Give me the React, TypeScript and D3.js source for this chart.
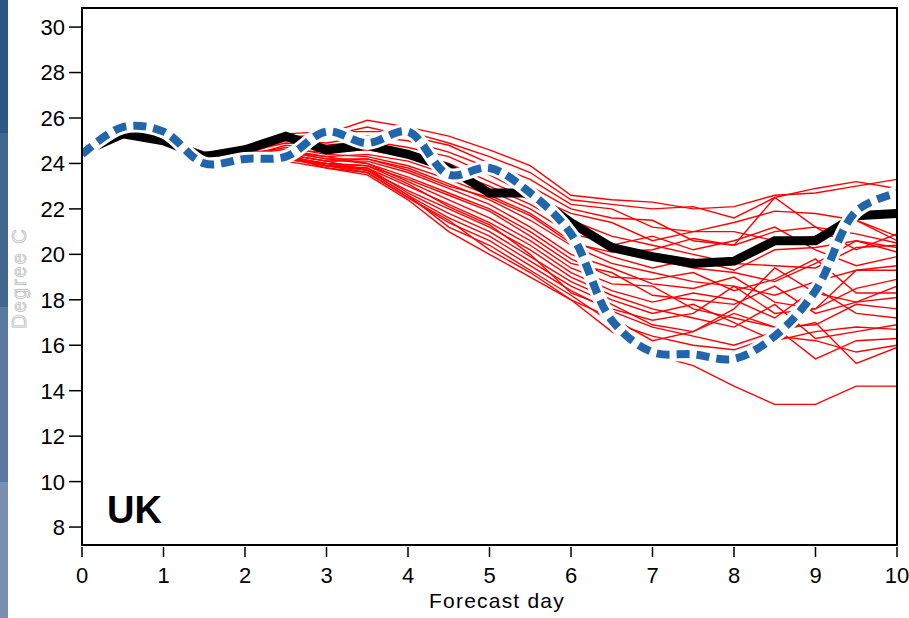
import React from 'react';
import * as d3 from 'd3';

// forecast days, half-day steps
const days = [0, 0.5, 1, 1.5, 2, 2.5, 3, 3.5, 4, 4.5, 5, 5.5, 6, 6.5, 7, 7.5, 8, 8.5, 9, 9.5, 10];
const xTicks = [0, 1, 2, 3, 4, 5, 6, 7, 8, 9, 10];
const yTicks = [8, 10, 12, 14, 16, 18, 20, 22, 24, 26, 28, 30];

// black thick line
const control = [24.5, 25.3, 25.0, 24.3, 24.6, 25.2, 24.6, 24.8, 24.4, 23.8, 22.7, 22.7, 21.4, 20.3, 19.9, 19.6, 19.7, 20.6, 20.6, 21.7, 21.8];
// blue dashed line
const analysis = [24.4, 25.6, 25.4, 24.0, 24.2, 24.3, 25.4, 24.9, 25.4, 23.5, 23.8, 22.7, 20.9, 17.1, 15.7, 15.6, 15.4, 16.4, 18.4, 21.9, 22.7];

// red ensemble members
const members = [
  [24.5, 25.3, 25.1, 24.5, 24.5, 25.1, 25.3, 25.9, 25.6, 25.2, 24.6, 23.9, 22.6, 22.4, 22.3, 22.0, 22.1, 22.6, 22.7, 23.0, 23.3],
  [24.5, 25.4, 25.0, 24.4, 24.6, 25.3, 25.4, 25.4, 25.4, 24.9, 24.3, 23.6, 22.4, 22.2, 22.0, 22.1, 21.6, 22.5, 22.9, 23.2, 22.9],
  [24.5, 25.3, 25.1, 24.3, 24.4, 25.2, 25.2, 25.6, 25.2, 24.8, 24.0, 23.3, 22.2, 22.0, 21.2, 21.0, 21.4, 21.9, 21.8, 21.5, 20.8],
  [24.5, 25.4, 25.0, 24.5, 24.4, 25.0, 24.9, 25.2, 25.0, 24.5, 23.8, 23.0, 22.0, 21.6, 21.5, 20.6, 20.4, 22.5, 21.2, 20.9, 20.5],
  [24.5, 25.3, 24.9, 24.4, 24.5, 24.9, 24.8, 25.0, 24.7, 24.3, 23.5, 22.6, 21.8, 21.4, 20.6, 21.0, 21.0, 20.6, 20.8, 21.5, 20.6],
  [24.5, 25.2, 25.0, 24.2, 24.3, 24.8, 24.6, 24.8, 24.5, 24.0, 23.2, 22.4, 21.5, 20.8, 20.4, 20.0, 19.6, 19.5, 19.4, 20.3, 20.4],
  [24.5, 25.3, 25.1, 24.4, 24.4, 24.6, 24.5, 24.6, 24.3, 23.7, 23.0, 22.2, 21.2, 20.4, 20.8, 20.2, 20.6, 21.2, 20.2, 19.5, 19.9],
  [24.5, 25.2, 24.9, 24.3, 24.3, 24.5, 24.3, 24.4, 24.1, 23.5, 22.8, 22.0, 20.9, 20.5, 19.8, 19.4, 19.2, 18.8, 19.6, 20.6, 20.1],
  [24.5, 25.3, 25.0, 24.4, 24.4, 24.7, 24.4, 24.3, 23.9, 23.3, 22.6, 21.8, 20.6, 19.9, 19.4, 19.8, 19.3, 20.2, 20.3, 20.6, 20.3],
  [24.5, 25.2, 25.0, 24.5, 24.3, 24.5, 24.2, 24.2, 23.8, 23.1, 22.4, 21.5, 20.4, 19.6, 19.2, 18.8, 18.6, 18.2, 18.8, 19.3, 19.3],
  [24.5, 25.3, 25.1, 24.3, 24.4, 24.4, 24.1, 24.1, 23.6, 22.9, 22.2, 21.2, 20.0, 19.4, 18.7, 18.5, 19.0, 17.9, 17.6, 18.5, 18.9],
  [24.5, 25.2, 24.9, 24.4, 24.5, 24.6, 24.3, 24.0, 23.4, 22.7, 22.0, 21.0, 19.8, 19.0, 18.9, 19.2, 18.4, 18.9, 19.8, 18.3, 18.3],
  [24.5, 25.3, 25.0, 24.4, 24.3, 24.3, 24.0, 23.9, 23.3, 22.6, 21.9, 20.8, 19.6, 19.2, 18.2, 18.0, 17.8, 18.6, 17.4, 17.9, 18.1],
  [24.5, 25.2, 25.0, 24.3, 24.4, 24.5, 24.2, 24.0, 23.2, 22.4, 21.6, 20.6, 19.4, 18.7, 18.6, 17.6, 17.2, 16.8, 16.9, 17.8, 17.6],
  [24.5, 25.3, 24.9, 24.5, 24.4, 24.4, 23.9, 23.8, 23.0, 22.2, 21.4, 20.4, 19.2, 18.4, 17.9, 18.3, 18.0, 17.2, 18.5, 17.4, 17.2],
  [24.5, 25.2, 25.0, 24.4, 24.3, 24.3, 24.0, 23.7, 22.8, 22.0, 21.2, 20.2, 19.0, 18.2, 17.6, 17.2, 16.8, 17.8, 16.3, 16.6, 16.9],
  [24.5, 25.3, 25.0, 24.3, 24.4, 24.2, 23.9, 23.8, 22.7, 21.8, 21.0, 19.9, 18.8, 18.0, 17.4, 17.8, 17.0, 16.2, 16.6, 16.8, 16.7],
  [24.5, 25.2, 25.1, 24.4, 24.3, 24.4, 24.1, 23.7, 22.6, 21.6, 20.8, 19.7, 18.6, 17.8, 16.9, 16.6, 17.4, 16.8, 15.4, 16.2, 16.3],
  [24.5, 25.3, 24.9, 24.4, 24.5, 24.3, 23.8, 23.6, 22.5, 21.4, 20.6, 19.5, 18.4, 17.5, 16.8, 16.4, 16.0, 16.6, 17.0, 15.2, 15.9],
  [24.5, 25.2, 25.0, 24.3, 24.3, 24.2, 23.9, 23.7, 22.6, 21.2, 20.4, 19.3, 18.2, 17.0, 16.4, 16.0, 15.8, 16.4, 16.2, 15.7, 16.0],
  [24.5, 25.3, 25.0, 24.4, 24.4, 24.3, 23.9, 23.6, 22.5, 21.5, 20.2, 19.2, 18.0, 16.6, 15.6, 15.1, 14.2, 13.4, 13.4, 14.2, 14.2],
  [24.5, 25.2, 24.9, 24.4, 24.3, 24.1, 23.8, 23.5, 22.4, 21.0, 20.0, 19.0, 18.0, 17.2, 16.2, 16.6, 17.6, 19.4, 18.3, 17.9, 18.6],
  [24.5, 25.3, 25.0, 24.3, 24.4, 24.2, 24.0, 23.9, 23.1, 22.1, 21.3, 20.0, 18.3, 17.6, 17.1, 17.4, 18.6, 17.4, 17.6, 19.3, 19.5],
  [24.5, 25.2, 25.0, 24.4, 24.3, 24.4, 24.1, 24.2, 23.7, 23.0, 22.5, 21.7, 20.5, 20.1, 20.2, 20.7, 20.4, 21.0, 21.2, 20.2, 20.9],
];

// the coloured strip down the left edge
const stripBands = [
  { from: 0, to: 133, color: '#2c5782' },
  { from: 133, to: 307, color: '#41678f' },
  { from: 307, to: 482, color: '#5a79a0' },
  { from: 482, to: 618, color: '#7a90b1' },
];

const W = 909;
const H = 618;
const left = 82, right = 897, top = 8, bottom = 545;
const font = '"Liberation Sans", Arial, Helvetica, sans-serif';

export default function App() {
  const x = d3.scaleLinear().domain([0, 10]).range([left, right]);
  const y = d3.scaleLinear().domain([7.21, 30.84]).range([bottom, top]);

  const line = d3.line<number>()
    .x((d, i) => x(days[i]))
    .y(d => y(d));
  const smooth = d3.line<number>()
    .x((d, i) => x(days[i]))
    .y(d => y(d))
    .curve(d3.curveCatmullRom.alpha(0.5));

  return (
    <svg width={W} height={H} style={{ position: 'absolute', left: 0, top: 0, background: '#fff' }}>
      <defs>
        <clipPath id="plot-clip">
          <rect x={left} y={top} width={right - left} height={bottom - top} />
        </clipPath>
      </defs>

      {stripBands.map((b, i) => (
        <rect key={'band' + i} x={0} y={b.from} width={8} height={b.to - b.from} fill={b.color} />
      ))}

      <g clipPath="url(#plot-clip)">
        {members.map((m, i) => (
          <path key={'m' + i} d={line(m) || ''} fill="none" stroke="#ff0000" strokeWidth={1.4} />
        ))}
        <path d={line(control) || ''} fill="none" stroke="#000" strokeWidth={9} />
        <path d={smooth(analysis) || ''} fill="none" stroke="#fff" strokeWidth={14} />
        <path d={smooth(analysis) || ''} fill="none" stroke="#2166ac" strokeWidth={8} strokeDasharray="13 7" />
      </g>

      <rect x={left} y={top} width={right - left} height={bottom - top} fill="none" stroke="#000" strokeWidth={2} />

      {/* y axis */}
      {yTicks.map(t => (
        <g key={'y' + t} transform={`translate(0 ${y(t)})`}>
          <line x1={69} x2={left} stroke="#000" strokeWidth={1.5} />
          <text x={65} dy="0.36em" textAnchor="end" fontFamily={font} fontSize={22}>{t}</text>
        </g>
      ))}

      {/* x axis */}
      {xTicks.map(t => (
        <g key={'x' + t} transform={`translate(${x(t)} 0)`}>
          <line y1={547} y2={557} stroke="#000" strokeWidth={1.5} />
          <text y={583} textAnchor="middle" fontFamily={font} fontSize={22}>{t}</text>
        </g>
      ))}

      <text x={497} y={608} textAnchor="middle" fontFamily={font} fontSize={21} letterSpacing={1.2}>Forecast day</text>

      <text transform="translate(26 278) rotate(-90)" textAnchor="middle" fontFamily={font} fontSize={20}
        letterSpacing={2} fill="#f6f6f6" stroke="#b8b8b8" strokeWidth={0.7}>Degree C</text>

      <text x={107} y={523} fontFamily={font} fontSize={38} fontWeight="bold">UK</text>
    </svg>
  );
}
